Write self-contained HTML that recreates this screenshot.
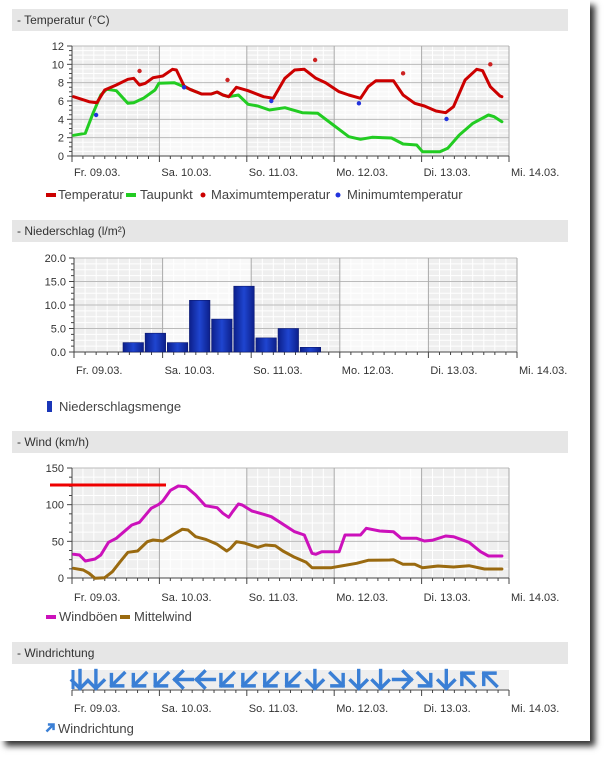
<!DOCTYPE html>
<html><head><meta charset="utf-8">
<style>
html,body{margin:0;padding:0;background:#fff;}
body{width:608px;height:759px;position:relative;overflow:hidden;font-family:"Liberation Sans",Arial,sans-serif;}
#page{position:absolute;left:0;top:0;width:590px;height:741px;background:#fff;box-shadow:5px 5px 6px #333;}
.hdr{position:absolute;left:12px;width:556px;height:22px;background:#e6e6e6;font-size:12px;color:#333;line-height:22px;padding-left:5px;box-sizing:border-box;}
svg{position:absolute;left:0;top:0;}
</style></head><body>
<div id="page"></div>
<div class="hdr" style="top:9px">- Temperatur (°C)</div>
<div class="hdr" style="top:220px">- Niederschlag (l/m²)</div>
<div class="hdr" style="top:431px">- Wind (km/h)</div>
<div class="hdr" style="top:642px">- Windrichtung</div>
<svg id="s" width="608" height="759" xmlns="http://www.w3.org/2000/svg" font-family="Liberation Sans, Arial, sans-serif"></svg>
<script>
var s=document.getElementById('s'),out='';
function grid(x0,x1,y0,y1,ny,labels,days,lblY){
  var dw=(x1-x0)/5;
  for(var d=0;d<5;d++){out+='<rect x="'+(x0+d*dw)+'" y="'+y0+'" width="'+dw+'" height="'+(y1-y0)+'" fill="'+(d%2?'#f8f8f8':'#efefef')+'"/>';}
  for(var i=1;i<40;i++){if(i%8)out+='<line x1="'+(x0+i*dw/8)+'" x2="'+(x0+i*dw/8)+'" y1="'+y0+'" y2="'+y1+'" stroke="#fff" stroke-width="1"/>';}
  var m=ny*4;for(var j=1;j<m;j++){var y=y0+j*(y1-y0)/m;if(j%4)out+='<line x1="'+x0+'" x2="'+x1+'" y1="'+y+'" y2="'+y+'" stroke="#fff"/>';}
  for(var j=0;j<ny;j++){var y=y0+j*(y1-y0)/ny;out+='<line x1="'+x0+'" x2="'+x1+'" y1="'+y+'" y2="'+y+'" stroke="#bbb"/>';}
  for(var d=1;d<=5;d++){var x=x0+d*dw;out+='<line x1="'+x+'" x2="'+x+'" y1="'+y0+'" y2="'+y1+'" stroke="#aaa"/>';}
  out+='<line x1="'+x0+'" x2="'+x0+'" y1="'+y0+'" y2="'+y1+'" stroke="#444"/>';
  out+='<line x1="'+x0+'" x2="'+x1+'" y1="'+y1+'" y2="'+y1+'" stroke="#444"/>';
  for(var i=0;i<=40;i++){var x=x0+i*dw/8;out+='<line x1="'+x+'" x2="'+x+'" y1="'+y1+'" y2="'+(y1+(i%8?3:6))+'" stroke="#444"/>';}
  if(labels){for(var j=0;j<=ny;j++){var y=y0+j*(y1-y0)/ny;out+='<line x1="'+(x0-5)+'" x2="'+x0+'" y1="'+y+'" y2="'+y+'" stroke="#444"/><text x="'+(x0-8)+'" y="'+(y+4)+'" font-size="11" fill="#333" text-anchor="end">'+labels[ny-j]+'</text>';
    if(j<ny)for(var k=1;k<4;k++){var yy=y+k*(y1-y0)/ny/4;out+='<line x1="'+(x0-3)+'" x2="'+x0+'" y1="'+yy+'" y2="'+yy+'" stroke="#444"/>';}}}
  for(var d=0;d<=5;d++){out+='<text x="'+(x0+d*dw+2)+'" y="'+lblY+'" font-size="11" fill="#333">'+days[d]+'</text>';}
}
var days=['Fr. 09.03.','Sa. 10.03.','So. 11.03.','Mo. 12.03.','Di. 13.03.','Mi. 14.03.'];
function pth(pts,dy,col,w){var d='';for(var i=0;i<pts.length;i+=2){d+=(i?'L':'M')+(pts[i]/2.58).toFixed(1)+','+(dy+pts[i+1]/3).toFixed(1);}
  out+='<path d="'+d+'" fill="none" stroke="'+col+'" stroke-width="'+w+'" stroke-linejoin="round" stroke-linecap="round"/>';}
grid(72,509,46,156,6,[0,2,4,6,8,10,12],days,176);
pth([190,406,220,400,240,340,260,285,275,268,300,272,330,310,345,308,370,295,400,270,410,250,450,248,470,258,490,268,520,282,545,282,560,276,575,285,590,290,615,285,640,313,665,318,695,330,735,323,780,338,820,340,860,375,900,410,930,418,960,412,1010,414,1040,432,1075,435,1090,455,1135,455,1155,445,1185,405,1220,370,1260,345,1275,350,1295,365],0,'#22cc22',3);
pth([190,290,230,305,250,308,270,270,300,255,330,238,345,235,360,255,375,250,395,233,420,228,445,208,455,210,475,258,490,268,520,282,545,282,560,276,575,285,590,290,610,262,640,272,680,290,705,295,735,235,760,210,785,208,815,235,840,248,875,275,900,285,930,295,950,260,970,242,1015,242,1040,285,1070,310,1095,318,1125,333,1150,338,1170,320,1200,240,1230,208,1245,212,1265,260,1290,288,1295,290],0,'#cc0000',3);
[[360,213],[587,240],[813,180],[1040,220],[1265,193]].forEach(function(p){out+='<circle cx="'+(p[0]/2.58)+'" cy="'+(p[1]/3)+'" r="2.2" fill="#cc2222"/>';});
[[248,345],[475,262],[700,303],[926,310],[1152,357]].forEach(function(p){out+='<circle cx="'+(p[0]/2.58)+'" cy="'+(p[1]/3)+'" r="2.2" fill="#2233dd"/>';});
out+='<rect x="46" y="193" width="10" height="4" fill="#cc0000"/><text x="58" y="199" font-size="13" fill="#444">Temperatur</text>';
out+='<rect x="126" y="193" width="10" height="4" fill="#22cc22"/><text x="140" y="199" font-size="13" fill="#444">Taupunkt</text>';
out+='<circle cx="203" cy="195" r="2.5" fill="#cc0000"/><text x="211" y="199" font-size="13" fill="#444">Maximumtemperatur</text>';
out+='<circle cx="338" cy="195" r="2.5" fill="#2233dd"/><text x="347" y="199" font-size="13" fill="#444">Minimumtemperatur</text>';
grid(74,517,258,352,4,['0.0','5.0','10.0','15.0','20.0'],days,374);
out+='<defs><linearGradient id="bg" x1="0" x2="1"><stop offset="0" stop-color="#0c1f8a"/><stop offset="0.5" stop-color="#1f45d0"/><stop offset="1" stop-color="#0c1f8a"/></linearGradient></defs>';
[2,4,2,11,7,14,3,5,1].forEach(function(v,n){var x=123+22.15*n,h=v*4.7;out+='<rect x="'+x+'" y="'+(352-h)+'" width="20.5" height="'+h+'" fill="url(#bg)" stroke="#0a1870" stroke-width="0.6"/>';});
out+='<rect x="47" y="401" width="5" height="11" fill="#1a36b8"/><text x="59" y="411" font-size="13" fill="#444">Niederschlagsmenge</text>';
grid(72,509,468,578,3,[0,50,100,150],days,601);
pth([190,430,215,435,230,445,245,460,270,458,290,440,310,410,330,382,355,378,380,350,395,345,420,348,445,330,470,313,485,315,505,335,530,343,560,358,585,378,595,370,610,350,630,354,665,367,685,360,710,362,730,378,760,397,790,412,805,428,855,428,880,423,920,415,950,406,1005,405,1015,404,1040,418,1070,418,1090,428,1130,423,1170,426,1210,422,1250,432,1295,432],425,'#9a6a10',3);
pth([190,388,205,390,220,408,245,402,260,390,280,352,300,340,320,320,340,300,360,292,390,250,410,238,420,228,440,196,460,183,480,185,505,210,530,242,560,248,575,265,590,277,600,260,615,237,625,240,650,258,680,268,700,275,720,290,760,320,785,330,805,385,815,388,830,380,875,380,890,330,930,330,945,310,980,318,1015,320,1035,340,1075,340,1095,348,1115,346,1150,333,1170,335,1210,352,1240,380,1260,393,1295,393],425,'#cc11bb',3);
out+='<line x1="50" x2="166" y1="485" y2="485" stroke="#ee0000" stroke-width="3"/>';
out+='<rect x="46" y="615" width="10" height="4" fill="#cc11bb"/><text x="59" y="621" font-size="13" fill="#444">Windböen</text>';
out+='<rect x="120" y="615" width="10" height="4" fill="#9a6a10"/><text x="134" y="621" font-size="13" fill="#444">Mittelwind</text>';
out+='<rect x="72" y="670" width="437" height="19" fill="#eeeeee"/>';
out+='<line x1="72" x2="509" y1="690" y2="690" stroke="#444"/>';
for(var i=0;i<=40;i++){var x=72+i*437/40;out+='<line x1="'+x+'" x2="'+x+'" y1="690" y2="'+(690+(i%8?3:6))+'" stroke="#444"/>';}
for(var d=0;d<=5;d++){out+='<text x="'+(72+d*87.4+2)+'" y="712" font-size="11" fill="#333">'+days[d]+'</text>';}
out+='<line x1="73" x2="73" y1="670" y2="689" stroke="#3a7fd5" stroke-width="3"/>';
var ang=[0,0,45,45,45,90,90,45,45,45,45,0,-45,0,0,-90,-45,0,135,135];
ang.forEach(function(a,k){var cx=74+21.9*k;if(k==0)cx=80;out+='<g transform="translate('+cx+',679.5) rotate('+a+')" stroke="#3a7fd5" stroke-width="3.4" fill="none" stroke-linecap="square"><line x1="0" y1="-9" x2="0" y2="8.5"/><polyline points="-8,1 0,9 8,1"/></g>';});
out+='<g transform="translate(50,728) rotate(-135)" stroke="#3a7fd5" stroke-width="2.5" fill="none"><line x1="0" y1="-5" x2="0" y2="5"/><polyline points="-4,1 0,5 4,1"/></g><text x="58" y="733" font-size="13" fill="#444">Windrichtung</text>';
s.innerHTML=out;
</script>
</body></html>
